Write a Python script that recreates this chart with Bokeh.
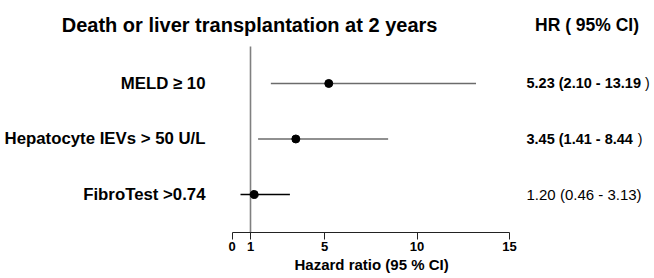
from bokeh.plotting import figure
from bokeh.models import Range1d, FixedTicker, ColumnDataSource, Title
from bokeh.core.properties import value
from bokeh.embed import file_html
from bokeh.resources import INLINE

# ---- data ----
labels = ["MELD \u2265 10", "Hepatocyte IEVs > 50 U/L", "FibroTest >0.74"]
hr = [5.23, 3.45, 1.20]
lo = [2.10, 1.41, 0.46]
hi = [13.19, 8.44, 3.13]
hr_main = ["5.23 (2.10 - 13.19", "3.45 (1.41 - 8.44", "1.20 (0.46 - 3.13)"]
hr_close = [")", ")", ""]
hr_bold = [True, True, False]
rows = [3, 2, 1]
ticks = [0, 1, 5, 10, 15]
title_text = "Death or liver transplantation at 2 years"
header_text = "HR ( 95% CI)"
xlabel = "Hazard ratio (95 % CI)"

FONT = "Liberation Sans"
W, H = 654, 278
PXU = 18.5           # pixels per unit
X0 = 231.5           # canvas x of HR = 0

p = figure(width=W, height=H, output_backend="svg", toolbar_location=None,
           x_range=Range1d(-X0 / PXU, -X0 / PXU + W / PXU),
           y_range=Range1d(0.315, 4.495),
           min_border_left=0, min_border_right=0, min_border_top=0,
           min_border_bottom=46, y_axis_location=None)
p.outline_line_color = None
p.grid.visible = False
p.background_fill_color = "white"

ax = p.xaxis[0]
ax.bounds = (0, 15)
ax.ticker = FixedTicker(ticks=ticks)
ax.minor_tick_line_color = None
ax.major_tick_in = 0
ax.major_tick_out = 7
ax.axis_line_color = "#222222"
ax.major_tick_line_color = "#222222"
ax.major_label_text_font = FONT
ax.major_label_text_font_style = "bold"
ax.major_label_text_font_size = "13px"
ax.major_label_text_color = "black"
ax.major_label_standoff = 2

xt = Title(text=xlabel, align="left", offset=294, text_font=FONT, text_font_style="bold",
           text_font_size="15px", text_color="black", standoff=0)
p.add_layout(xt, "below")

# reference line at HR = 1
p.segment(x0=[1], x1=[1], y0=[0.0], y1=[3.667], line_color="#808080", line_width=1.6)

src = ColumnDataSource(dict(
    y=rows, hr=hr, lo=lo, hi=hi, lab=labels,
    col=["#6b6b6b", "#6b6b6b", "#000000"],
))
p.segment(x0="lo", x1="hi", y0="y", y1="y", line_color="col", line_width=1.3, source=src)
p.scatter(x="hr", y="y", size=8, fill_color="black", line_color="black", source=src)

# row labels
p.text(x=[-1.432] * 3, y=rows, text=labels, text_align="right", text_baseline="middle",
       text_font=value(FONT), text_font_style="bold", text_font_size="16.8px", text_color="black")

# HR values
close_x = [22.57, 22.19, 0]
for yy, t, c, b, cx in zip(rows, hr_main, hr_close, hr_bold, close_x):
    p.text(x=[15.92], y=[yy], text=[t], text_align="left", text_baseline="middle",
           text_font=value(FONT), text_font_style="bold" if b else "normal",
           text_font_size="14.5px" if b else "15px", text_color="black")
    if c:
        p.text(x=[cx], y=[yy], text=[c], text_align="right", text_baseline="middle",
               text_font=value(FONT), text_font_style="normal",
               text_font_size="14px", text_color="black")

# title and header
p.text(x=[0.95], y=[4.045], text=[title_text], text_align="center", text_baseline="middle",
       text_font=value(FONT), text_font_style="bold", text_font_size="20px", text_color="black")
p.text(x=[19.19], y=[4.045], text=[header_text], text_align="center", text_baseline="middle",
       text_font=value(FONT), text_font_style="bold", text_font_size="17.5px", text_color="black")

open("out.html", "w").write(file_html(p, INLINE))
